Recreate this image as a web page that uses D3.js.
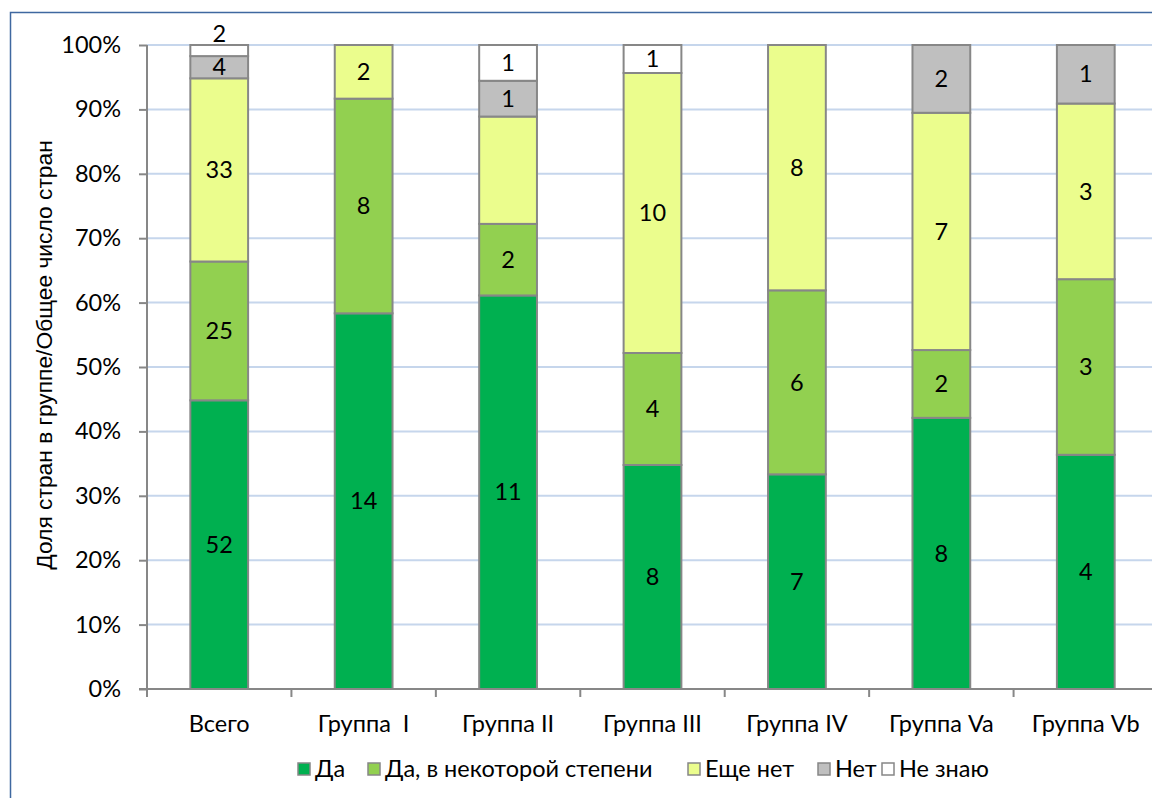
<!DOCTYPE html>
<html><head><meta charset="utf-8">
<script src="https://cdn.jsdelivr.net/npm/d3@7"></script>
<style>body{margin:0;background:#fff}svg{display:block;font-family:Lato,"Open Sans",sans-serif}</style>
</head><body>
<script>
const categories = ["Всего","Группа  I","Группа II","Группа III","Группа IV","Группа Va","Группа Vb"];
const seriesNames = ["Да","Да, в некоторой степени","Еще нет","Нет","Не знаю"];
const seriesColors = ["#00b050","#92d050","#ebfd8d","#bfbfbf","#ffffff"];
const da        = [52,14,11,8,7,8,4];
const daNek     = [25,8,2,4,6,2,3];
const esheNet   = [33,2,3,10,8,7,3];
const net       = [4,0,1,0,0,2,1];
const neZnayu   = [2,0,1,1,0,0,0];
// segments whose count label is not shown in the reference: [category index, series index]
const hiddenLabels = [[2,2]];
const yTicks = [0,0.1,0.2,0.3,0.4,0.5,0.6,0.7,0.8,0.9,1];
const yTitle = "Доля стран в группе/Общее число стран";

(function(){
const W=1152,H=798,FS=23.5;
const svg=d3.select("body").append("svg").attr("width",W).attr("height",H);
svg.append("rect").attr("x",10.5).attr("y",12.5).attr("width",W).attr("height",H).attr("fill","none").attr("stroke","#3f68a0").attr("stroke-width",1.5);

const pL=147,pR=1158,pT=45,pB=689;
const x=d3.scaleBand().domain(categories).range([pL,pR]).paddingInner(0.6).paddingOuter(0.3);
const y=d3.scaleLinear().domain([0,1]).range([pB,pT]);

// gridlines
svg.append("g").selectAll("line").data(yTicks.slice(1)).join("line")
 .attr("x1",pL).attr("x2",W).attr("y1",d=>y(d)).attr("y2",d=>y(d))
 .attr("stroke","#c6d6ec").attr("stroke-width",2);

const seriesVals=[da,daNek,esheNet,net,neZnayu];
const rows=categories.map((c,i)=>{const o={cat:c};seriesNames.forEach((s,j)=>o[s]=seriesVals[j][i]);return o;});
const stack=d3.stack().keys(seriesNames).offset(d3.stackOffsetExpand)(rows);

const g=svg.append("g");
stack.forEach((layer,j)=>{
  layer.forEach((d,i)=>{
    const v=seriesVals[j][i];
    if(!v) return;
    g.append("rect").attr("x",x(categories[i])).attr("width",x.bandwidth())
     .attr("y",y(d[1])).attr("height",y(d[0])-y(d[1]))
     .attr("fill",seriesColors[j]).attr("stroke","#878787").attr("stroke-width",2);
  });
});
stack.forEach((layer,j)=>{
  layer.forEach((d,i)=>{
    const v=seriesVals[j][i];
    if(!v) return;
    if(hiddenLabels.some(h=>h[0]===i&&h[1]===j)) return;
    const h=y(d[0])-y(d[1]);
    let cy=(y(d[0])+y(d[1]))/2;
    if(h<16 && j===seriesNames.length-1) cy=y(d[1])-11; // tiny top segment: label sits above bar
    g.append("text").attr("x",x(categories[i])+x.bandwidth()/2).attr("y",cy)
     .attr("dy","0.35em").attr("text-anchor","middle").attr("font-size",FS).attr("fill","#000").text(v);
  });
});

// y axis
const ya=svg.append("g").attr("transform",`translate(${pL},0)`)
 .call(d3.axisLeft(y).tickValues(yTicks).tickFormat(d3.format(".0%")).tickSize(8).tickPadding(18));
ya.select(".domain").attr("stroke","#878787").attr("stroke-width",2).attr("d",`M0,${pT}V${pB}`);
ya.selectAll(".tick line").attr("stroke","#878787").attr("stroke-width",2);
ya.selectAll(".tick text").attr("font-size",FS).attr("fill","#000").attr("font-family","Lato");

// x axis
const step=x.step();
svg.append("line").attr("x1",pL-8).attr("x2",W).attr("y1",pB).attr("y2",pB).attr("stroke","#878787").attr("stroke-width",2);
const bounds=d3.range(categories.length).map(i=>x(categories[i])-x.paddingOuter()*step);
svg.append("g").selectAll("line").data(bounds).join("line")
 .attr("x1",d=>d).attr("x2",d=>d).attr("y1",pB).attr("y2",pB+8).attr("stroke","#878787").attr("stroke-width",2);
svg.append("g").selectAll("text").data(categories).join("text")
 .attr("x",d=>x(d)+x.bandwidth()/2).attr("y",732).attr("text-anchor","middle")
 .attr("font-size",FS).attr("fill","#000").style("white-space","pre").attr("xml:space","preserve").text(d=>d);

// y title
svg.append("text").attr("transform",`translate(44,355) rotate(-90)`)
 .attr("text-anchor","middle").attr("dy","0.35em").attr("font-size",22.8).attr("font-family","'Liberation Sans',Arial,sans-serif")
 .attr("fill","#000").text(yTitle);

// legend
const legX=[298,368,688,818,882];
const lg=svg.append("g");
seriesNames.forEach((s,j)=>{
  lg.append("rect").attr("x",legX[j]).attr("y",763).attr("width",12).attr("height",12)
   .attr("fill",seriesColors[j]).attr("stroke","#878787").attr("stroke-width",1.5);
  lg.append("text").attr("x",legX[j]+17).attr("y",769).attr("dy","0.35em").attr("font-size",FS).attr("fill","#000").text(s);
});
})();
</script>
</body></html>
